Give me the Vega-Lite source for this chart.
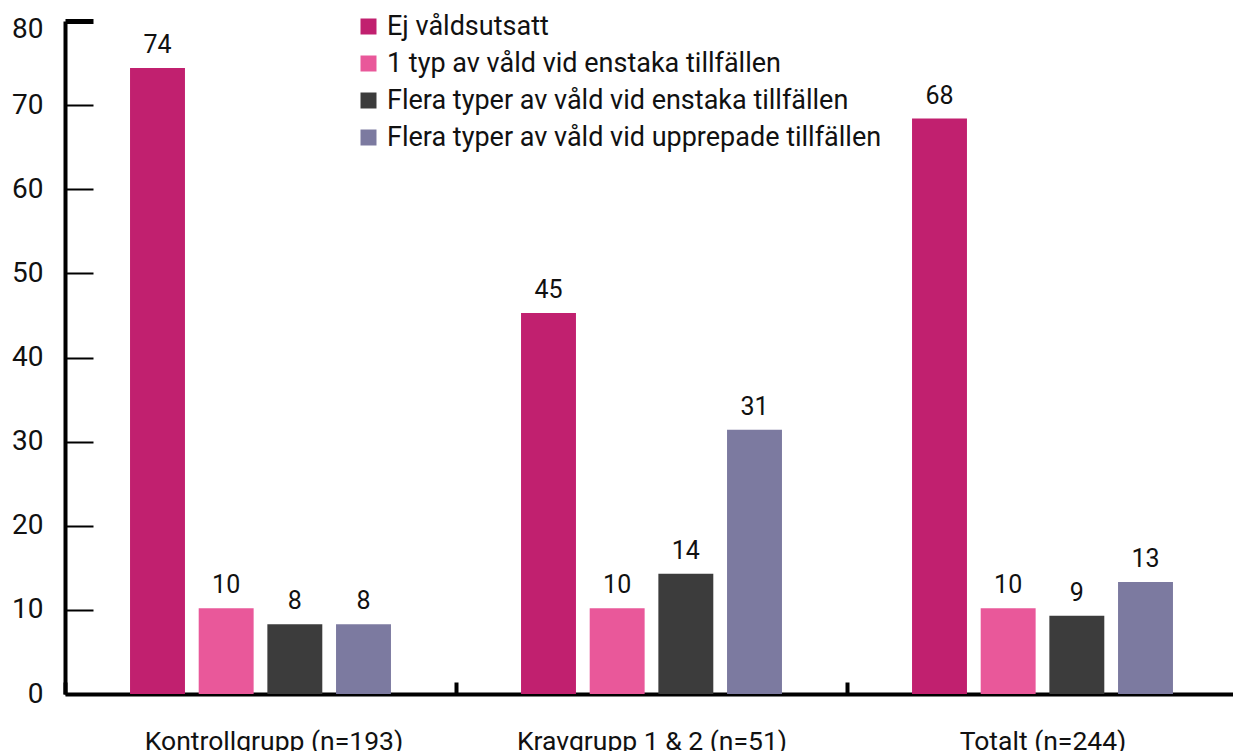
{
  "$schema": "https://vega.github.io/schema/vega-lite/v6.json",
  "width": 1173,
  "height": 673,
  "autosize": "none",
  "padding": {"left": 65, "top": 21, "right": 0, "bottom": 57},
  "config": {"view": {"stroke": null}, "font": "Roboto"},
  "data": {
    "values": [
      {"grupp": "Kontrollgrupp (n=193)", "kategori": "Ej våldsutsatt", "andel": 74.4},
      {"grupp": "Kontrollgrupp (n=193)", "kategori": "1 typ av våld vid enstaka tillfällen", "andel": 10.2},
      {"grupp": "Kontrollgrupp (n=193)", "kategori": "Flera typer av våld vid enstaka tillfällen", "andel": 8.3},
      {"grupp": "Kontrollgrupp (n=193)", "kategori": "Flera typer av våld vid upprepade tillfällen", "andel": 8.3},
      {"grupp": "Kravgrupp 1 & 2 (n=51)", "kategori": "Ej våldsutsatt", "andel": 45.3},
      {"grupp": "Kravgrupp 1 & 2 (n=51)", "kategori": "1 typ av våld vid enstaka tillfällen", "andel": 10.2},
      {"grupp": "Kravgrupp 1 & 2 (n=51)", "kategori": "Flera typer av våld vid enstaka tillfällen", "andel": 14.3},
      {"grupp": "Kravgrupp 1 & 2 (n=51)", "kategori": "Flera typer av våld vid upprepade tillfällen", "andel": 31.4},
      {"grupp": "Totalt (n=244)", "kategori": "Ej våldsutsatt", "andel": 68.4},
      {"grupp": "Totalt (n=244)", "kategori": "1 typ av våld vid enstaka tillfällen", "andel": 10.2},
      {"grupp": "Totalt (n=244)", "kategori": "Flera typer av våld vid enstaka tillfällen", "andel": 9.3},
      {"grupp": "Totalt (n=244)", "kategori": "Flera typer av våld vid upprepade tillfällen", "andel": 13.3}
    ]
  },
  "encoding": {
    "x": {
      "field": "grupp",
      "type": "nominal",
      "sort": ["Kontrollgrupp (n=193)", "Kravgrupp 1 & 2 (n=51)", "Totalt (n=244)"],
      "scale": {"paddingInner": 0, "paddingOuter": 0},
      "axis": {
        "title": null,
        "labelAngle": 0,
        "labelFontSize": 26.5,
        "labelColor": "#111111",
        "labelPadding": 46,
        "labelLimit": 600,
        "labelOffset": {"condition": {"test": "datum.value == 'Kontrollgrupp (n=193)'", "value": 13}, "value": 0},
        "domainWidth": 4,
        "domainColor": "#000000",
        "tickBand": "extent",
        "tickSize": -12,
        "tickWidth": 4,
        "tickColor": "#000000"
      }
    },
    "xOffset": {
      "field": "kategori",
      "type": "nominal",
      "sort": ["Ej våldsutsatt", "1 typ av våld vid enstaka tillfällen", "Flera typer av våld vid enstaka tillfällen", "Flera typer av våld vid upprepade tillfällen"],
      "scale": {"paddingInner": 0.2, "paddingOuter": 0.947}
    },
    "y": {
      "field": "andel",
      "type": "quantitative",
      "scale": {"domain": [0, 80]},
      "axis": {
        "title": null,
        "values": [0, 10, 20, 30, 40, 50, 60, 70, 80],
        "grid": false,
        "labelFontSize": 28,
        "labelColor": "#111111",
        "labelPadding": 50,
        "labelOffset": {"condition": {"test": "datum.value == 80", "value": 8}, "value": 0},
        "domainWidth": 4,
        "domainColor": "#000000",
        "tickSize": -28,
        "tickColor": "#000000",
        "tickWidth": {"condition": {"test": "datum.value == 80", "value": 5}, "value": 2}
      }
    }
  },
  "layer": [
    {
      "mark": {"type": "bar"},
      "encoding": {
        "color": {
          "field": "kategori",
          "type": "nominal",
          "sort": ["Ej våldsutsatt", "1 typ av våld vid enstaka tillfällen", "Flera typer av våld vid enstaka tillfällen", "Flera typer av våld vid upprepade tillfällen"],
          "scale": {"range": ["#C1206F", "#E9589A", "#3C3C3C", "#7C7AA0"]},
          "legend": {
            "title": null,
            "orient": "none",
            "legendX": 290,
            "legendY": -8,
            "symbolType": "square",
            "symbolSize": 256,
            "symbolStrokeWidth": 0,
            "labelFontSize": 27,
            "labelColor": "#111111",
            "labelOffset": 5,
            "rowPadding": 9,
            "labelLimit": 800
          }
        }
      }
    },
    {
      "mark": {"type": "text", "baseline": "bottom", "dy": -10, "fontSize": 25, "color": "#111111"},
      "encoding": {"text": {"field": "andel", "type": "quantitative", "format": ".0f"}}
    }
  ]
}
